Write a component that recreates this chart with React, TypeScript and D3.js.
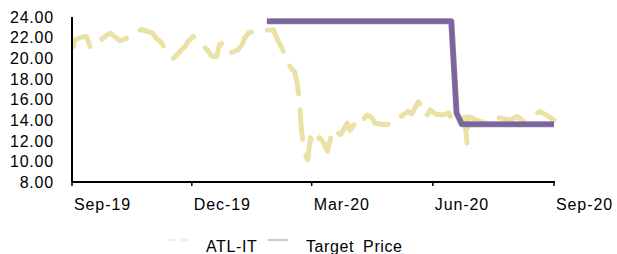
import React from 'react'
import * as d3 from 'd3'

const width = 617
const height = 254
const margin = { left: 72, right: 63, top: 17, bottom: 72 }

const priceDates = [
  '2019-09-02', '2019-09-03', '2019-09-09', '2019-09-12', '2019-09-15', '2019-09-23', '2019-09-30',
  '2019-10-04', '2019-10-07', '2019-10-11', '2019-10-14', '2019-10-24', '2019-10-28', '2019-11-01',
  '2019-11-04', '2019-11-08', '2019-11-11', '2019-11-17', '2019-11-20', '2019-11-23', '2019-11-26',
  '2019-11-28', '2019-12-02', '2019-12-13', '2019-12-16', '2019-12-20', '2019-12-22', '2019-12-25',
  '2019-12-30', '2020-01-05', '2020-01-08', '2020-01-10', '2020-01-13', '2020-01-23', '2020-01-27',
  '2020-02-01', '2020-02-03', '2020-02-08', '2020-02-14', '2020-02-17', '2020-02-19', '2020-02-21',
  '2020-02-22', '2020-02-24', '2020-02-27', '2020-02-29', '2020-03-02', '2020-03-04', '2020-03-07',
  '2020-03-10', '2020-03-13', '2020-03-17', '2020-03-19', '2020-03-23', '2020-03-28', '2020-03-30',
  '2020-04-03', '2020-04-05', '2020-04-08', '2020-04-12', '2020-04-16', '2020-04-18', '2020-04-26',
  '2020-05-01', '2020-05-05', '2020-05-08', '2020-05-13', '2020-05-16', '2020-05-21', '2020-05-24',
  '2020-05-27', '2020-05-30', '2020-06-03', '2020-06-09', '2020-06-13', '2020-06-15', '2020-06-22',
  '2020-06-25', '2020-06-27', '2020-06-28', '2020-07-04', '2020-07-12', '2020-07-17', '2020-07-22',
  '2020-07-30', '2020-08-04', '2020-08-11', '2020-08-16', '2020-08-21', '2020-08-26', '2020-09-01',
]
const priceValues = [
  21.1, 21.8, 22.05, 22.1, 21.0, 21.8, 22.45,
  22.05, 21.7, 21.85, 22.05, 22.8, 22.6, 22.45,
  21.95, 21.5, 20.8, 20.0, 20.35, 20.8, 21.15,
  21.6, 22.1, 20.8, 20.2, 20.2, 21.3, 21.5,
  20.5, 20.8, 21.3, 21.95, 22.45, 22.8, 22.75,
  22.75, 22.1, 20.8, 19.1, 18.7, 17.6, 15.5,
  13.4, 11.1, 10.15, 12.3, 11.5, 12.0, 12.3,
  11.8, 11.0, 13.1, 12.9, 12.6, 13.7, 13.0,
  13.7, 13.4, 13.85, 14.5, 14.2, 13.7, 13.55,
  13.7, 13.85, 14.35, 14.85, 14.6, 15.8, 15.15,
  14.35, 15.0, 14.6, 14.5, 14.7, 14.2, 13.7,
  14.3, 11.75, 14.35, 14.0, 13.7, 14.35, 14.2,
  14.0, 14.35, 13.7, 14.35, 14.85, 14.5, 14.0,
]

const targetDates = ['2020-01-27', '2020-06-15', '2020-06-19', '2020-06-23', '2020-09-01']
const targetValues = [23.6, 23.6, 14.7, 13.6, 13.6]

const yTicks = [8, 10, 12, 14, 16, 18, 20, 22, 24]
const xTickDates = ['2019-09-01', '2019-12-01', '2020-03-01', '2020-06-01', '2020-09-01']
const xTickLabels = ['Sep-19', 'Dec-19', 'Mar-20', 'Jun-20', 'Sep-20']

const parse = d3.timeParse('%Y-%m-%d')
const font = '"Liberation Sans", Arial, sans-serif'

export default function App() {
  const x = d3.scaleTime()
    .domain([parse('2019-09-01')!, parse('2020-09-01')!])
    .range([margin.left, width - margin.right])
  const y = d3.scaleLinear()
    .domain([8, 24])
    .range([height - margin.bottom, margin.top])

  const price = priceDates.map((d, i) => ({ date: parse(d)!, value: priceValues[i] }))
  const target = targetDates.map((d, i) => ({ date: parse(d)!, value: targetValues[i] }))
  const line = d3.line<{ date: Date, value: number }>()
    .x(d => x(d.date))
    .y(d => y(d.value))

  const x0 = x.range()[0]
  const x1 = x.range()[1]
  const yBase = y(8)

  return (
    <svg width={width} height={height} style={{ position: 'absolute', left: 0, top: 0, display: 'block' }}>
      <rect width={width} height={height} fill='#ffffff' />
      <path d={line(price)!} fill='none' stroke='#ebe1a4' strokeWidth={5}
        strokeLinecap='round' strokeLinejoin='round' strokeDasharray='30 16' />
      <path d={line(target)!} fill='none' stroke='#8a8394' strokeWidth={6} strokeLinejoin='round' />
      <path d={line(target)!} fill='none' stroke='#7c63a1' strokeWidth={4.5} strokeLinejoin='round' />

      <line x1={x0} x2={x0} y1={y(24)} y2={yBase} stroke='#000' strokeWidth={2} />
      <line x1={x0} x2={x1 + 1} y1={yBase} y2={yBase} stroke='#000' strokeWidth={2} />
      {xTickDates.map(d => (
        <line key={d} x1={x(parse(d)!)} x2={x(parse(d)!)} y1={yBase} y2={yBase + 4} stroke='#000' strokeWidth={1.5} />
      ))}
      {yTicks.map(t => (
        <text key={t} x={54} y={y(t)} dy='0.36em' textAnchor='end' fontFamily={font}
          fontSize={16} letterSpacing={0.8} fill='#000'>{t.toFixed(2)}</text>
      ))}
      {xTickDates.map((d, i) => (
        <text key={d} x={x(parse(d)!) + 2} y={210} fontFamily={font} fontSize={16}
          letterSpacing={0.9} fill='#000'>{xTickLabels[i]}</text>
      ))}

      <line x1={168} x2={175} y1={240} y2={240} stroke='#f3edd6' strokeWidth={2} />
      <line x1={181} x2={188} y1={240} y2={240} stroke='#f3edd6' strokeWidth={2} />
      <text x={206} y={252} fontFamily={font} fontSize={16} letterSpacing={0.6} fill='#000'>ATL-IT</text>
      <line x1={268} x2={288} y1={240} y2={240} stroke='#b3d0dc' strokeWidth={2} />
      <text x={306} y={252} fontFamily={font} fontSize={16} letterSpacing={0.6} wordSpacing={4} fill='#000'>Target Price</text>
    </svg>
  )
}
